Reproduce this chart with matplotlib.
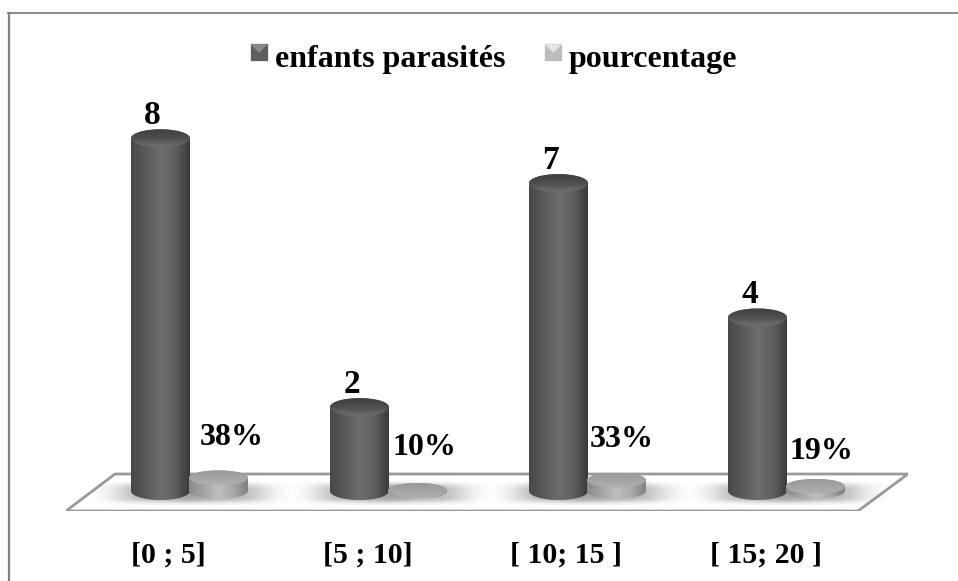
import numpy as np
import matplotlib
matplotlib.use("Agg")
from matplotlib import pyplot as plt
from matplotlib.path import Path
from matplotlib.patches import PathPatch, Polygon, Ellipse, Patch
from matplotlib.lines import Line2D
from matplotlib.legend_handler import HandlerBase
from matplotlib.colors import LinearSegmentedColormap

classes = ["[0 ; 5]", "[5 ; 10]", "[ 10; 15 ]", "[ 15; 20 ]"]
enfants = [8, 2, 7, 4]
pourcentage = [0.38, 0.10, 0.33, 0.19]
pct_labels = ["38%", "10%", "33%", "19%"]
pct_label_y = [1.33, 1.09, 1.27, 1.02]
pct_label_dx = [13, 7, 5, 6]

W, H = 958, 581
plt.rcParams["font.family"] = ["Liberation Serif", "DejaVu Serif"]
plt.rcParams["font.weight"] = "bold"

fig = plt.figure(figsize=(W / 100, H / 100), dpi=100)
# axes box = the floor of the excel 3d chart, in pixels
left, right, bottom, top = 66, 908, 511, 100
ax = fig.add_axes([left / W, 1 - bottom / H, (right - left) / W, (bottom - top) / H])
PX_X = 199.0
PX_Y = 44.8
Y0 = 496.7
ax.set_xlim((left - 189.5) / PX_X, (right - 189.5) / PX_X)
ax.set_ylim((Y0 - bottom) / PX_Y, (Y0 - top) / PX_Y)
xlim = ax.get_xlim()
ylim = ax.get_ylim()
ax.patch.set_visible(False)
for s in ax.spines.values():
    s.set_visible(False)

# frame, only top and left are visible
fig.add_artist(Line2D([9 / W, 9 / W], [0, 1 - 12.5 / H], color="#808080", lw=1.6))
fig.add_artist(Line2D([8 / W, 1], [1 - 12.5 / H, 1 - 12.5 / H], color="#808080", lw=1.3))

# floor
floor = Polygon([(0, 0), (792 / 842, 0), (1, 37 / 411), (49 / 842, 37 / 411)], closed=True,
                transform=ax.transAxes, facecolor="white", edgecolor="#9a9a9a", lw=2, zorder=1)
ax.add_patch(floor)

BAR_W = 59 / PX_X
RX = BAR_W / 2
BASE = 0.127
dark_body = LinearSegmentedColormap.from_list("d", ["#484848", "#5a5a5a", "#6e6e6e", "#606060", "#3a3a3a"])
dark_top = LinearSegmentedColormap.from_list("dt", ["#404040", "#4e4e4e", "#707070"])
light_body = LinearSegmentedColormap.from_list("l", ["#8a8a8a", "#a4a4a4", "#c0c0c0", "#a8a8a8", "#808080"])
light_top = LinearSegmentedColormap.from_list("lt", ["#999999", "#a4a4a4", "#b0b0b0"])
gradx = np.linspace(0, 1, 128).reshape(1, -1)
grady = np.linspace(0, 1, 64).reshape(-1, 1)


def cylinder(xc, h, ry, body_cmap, top_cmap, z):
    t = np.linspace(np.pi, 2 * np.pi, 40)
    xs = xc + RX * np.cos(t)
    ys = ry * np.sin(t)
    verts = list(zip(xs, BASE + ys)) + list(zip(xs[::-1], h - ys[::-1]))
    clip = PathPatch(Path(verts + [verts[0]]), transform=ax.transData)
    im = ax.imshow(gradx, extent=(xc - RX, xc + RX, BASE - ry, h + ry), cmap=body_cmap, aspect="auto",
                   interpolation="bicubic", zorder=z, vmin=0, vmax=1)
    im.set_clip_path(clip)
    ell = Ellipse((xc, h), 2 * RX, 2 * ry, transform=ax.transData)
    im2 = ax.imshow(grady, extent=(xc - RX, xc + RX, h - ry, h + ry), cmap=top_cmap, aspect="auto",
                    origin="upper", interpolation="bicubic", zorder=z + 0.1, vmin=0, vmax=1)
    im2.set_clip_path(ell)


def shadow(xc, half_w, half_h, z=2):
    # soft smear on the floor below a cylinder
    xx = np.linspace(-1, 1, 160)
    yy = np.linspace(-1, 1, 50)
    X, Y = np.meshgrid(xx, yy)
    alpha = np.exp(-(np.abs(X) * 1.5) ** 3) * np.exp(-(np.abs(Y) * 1.6) ** 4) * 0.6
    rgba = np.zeros(alpha.shape + (4,))
    rgba[..., :3] = 0.5
    rgba[..., 3] = alpha
    ax.imshow(rgba, extent=(xc - half_w, xc + half_w, BASE - 2 / PX_Y - half_h, BASE - 2 / PX_Y + half_h),
              aspect="auto", interpolation="bilinear", zorder=z)


for i in range(len(classes)):
    xd = i - 29 / PX_X
    xl = i + 29 / PX_X
    shadow(xd, 68 / PX_X, 15 / PX_Y)
    shadow(xl, 72 / PX_X, 15 / PX_Y)
    cylinder(xd, enfants[i], 9 / PX_Y, dark_body, dark_top, 3)
    cylinder(xl, pourcentage[i] + 0.04, 7.5 / PX_Y, light_body, light_top, 4)
    ax.text(xd - 8 / PX_X, enfants[i] + 0.51, str(enfants[i]), ha="center", va="center", fontsize=24, zorder=6)
    ax.text(xl + pct_label_dx[i] / PX_X, pct_label_y[i], pct_labels[i], ha="center", va="center",
            fontsize=23, zorder=6)

ax.set_xlim(xlim)
ax.set_ylim(ylim)
ax.set_yticks([])
ax.set_xticks(np.arange(len(classes)) - 21 / PX_X)
ax.set_xticklabels(classes, fontsize=21.5, fontweight="bold")
ax.tick_params(axis="x", length=0, pad=22)


class BevelHandler(HandlerBase):
    # little bevelled square like excel legend keys
    def __init__(self, shades):
        super().__init__()
        self.shades = shades

    def create_artists(self, legend, orig_handle, xdescent, ydescent, width, height, fontsize, trans):
        x0, y0 = -xdescent, -ydescent + 2.5
        s = min(width, height)
        a, b, c = (x0, y0), (x0 + s, y0), (x0 + s, y0 + s)
        d = (x0, y0 + s)
        m = (x0 + s / 2, y0 + s / 2)
        tri = [(a, b, c, d), (d, c, m)]
        out = []
        for pts, col in zip(tri, self.shades):
            out.append(Polygon(pts, closed=True, facecolor=col, edgecolor=col, lw=0.2, transform=trans))
        return out


h1 = Patch(facecolor="#5a5a5a", label="enfants parasités")
h2 = Patch(facecolor="#bbbbbb", label="pourcentage")
leg = fig.legend(handles=[h1, h2], loc="center", bbox_to_anchor=(494 / W, 1 - 59 / H), frameon=False, ncol=2,
                 fontsize=23, handlelength=0.53, handleheight=0.53, handletextpad=0.22, columnspacing=1.25,
                 borderpad=0, borderaxespad=0,
                 handler_map={h1: BevelHandler(["#5e5e5e", "#8c8c8c"]),
                              h2: BevelHandler(["#bdbdbd", "#e4e4e4"])})

fig.savefig("out.png", dpi=100)
